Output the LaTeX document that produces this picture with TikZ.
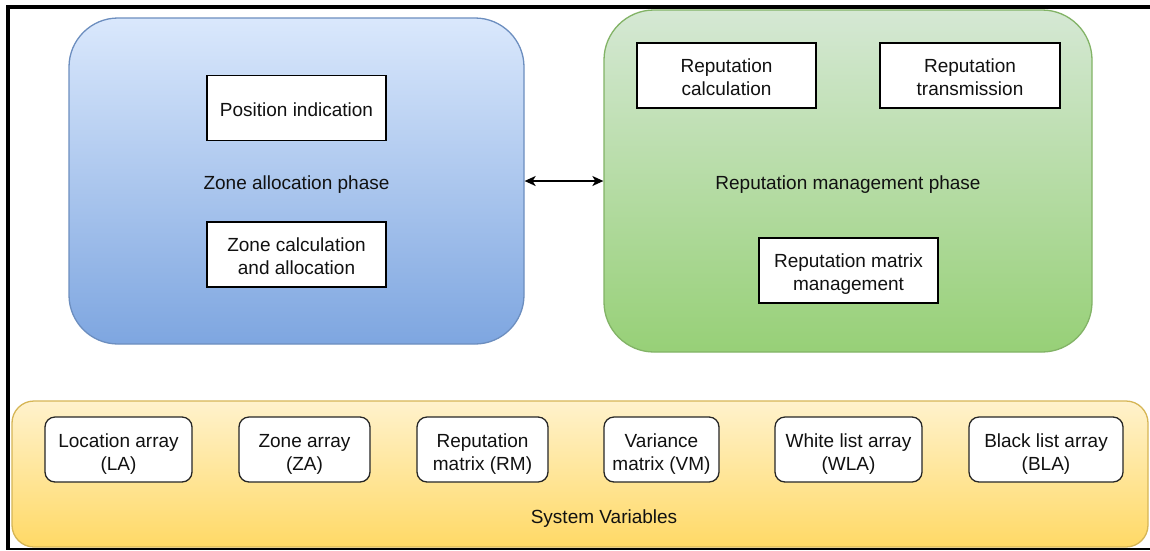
\documentclass[tikz,border=0pt]{standalone}
\usepackage{fontspec}
\setmainfont{Liberation Sans}
\usetikzlibrary{arrows.meta}

\definecolor{blueTop}{HTML}{DAE8FC}
\definecolor{blueBot}{HTML}{7EA6E0}
\definecolor{blueLine}{HTML}{6C8EBF}
\definecolor{greenTop}{HTML}{D5E8D4}
\definecolor{greenBot}{HTML}{97D077}
\definecolor{greenLine}{HTML}{82B366}
\definecolor{yellowTop}{HTML}{FFF2CC}
\definecolor{yellowBot}{HTML}{FFD966}
\definecolor{yellowLine}{HTML}{D6B656}
\definecolor{inkText}{HTML}{111111}

% centred lines of a label, set a little below the middle of their box
\newlength\celldrop
\setlength\celldrop{4pt}
\newcommand\celltext[1]{\raisebox{-\celldrop}[\height][\depth]{%
  \begin{tabular}{@{}c@{}}#1\end{tabular}}}

\tikzset{
  txt/.style={font=\fontsize{19}{23}\selectfont, text=inkText},
  phase/.style={txt, draw, line width=1.3pt, inner sep=0pt},
  task/.style={txt, draw=black, fill=white, line width=1.4pt,
    minimum width=179pt, minimum height=65pt, inner sep=0pt},
  var/.style={txt, draw=black!85, fill=white, line width=1.3pt,
    rounded corners=10pt, minimum height=65pt, inner sep=0pt,
    execute at begin node={\setlength\celldrop{5pt}}},
  link/.style={line width=1.5pt, {Stealth[length=11pt,width=10pt,inset=3pt]}-{Stealth[length=11pt,width=10pt,inset=3pt]}},
}

\begin{document}
\begin{tikzpicture}[x=1pt, y=-1pt]
\useasboundingbox (0,0) rectangle (1150,550);
\fill[white] (0,0) rectangle (1150,550);

% page frame
\draw[line width=4pt] (1150,6.5) -- (8,6.5) -- (8,550);
\draw[line width=2pt] (8,548.5) -- (1150,548.5);

% phase containers
\node[phase, draw=blueLine, top color=blueTop, bottom color=blueBot,
  rounded corners=49pt, minimum width=455pt, minimum height=326pt]
  (zone) at (296.5,181) {\celltext{Zone allocation phase}};
\node[phase, draw=greenLine, top color=greenTop, bottom color=greenBot,
  rounded corners=50pt, minimum width=488pt, minimum height=342pt]
  (rep) at (848,181) {\celltext{Reputation management phase}};
\node[phase, draw=yellowLine, top color=yellowTop, bottom color=yellowBot,
  rounded corners=22pt, minimum width=1136pt, minimum height=146pt]
  (sys) at (580,474) {};
\node[txt, inner sep=0pt] (syslabel) at (604,515) {\celltext{System Variables}};

% tasks of the zone allocation phase
\node[task] (pos) at (296.5,108) {\celltext{Position indication}};
\node[task] (zcalc) at (296.5,254.5) {\celltext{Zone calculation\\and allocation}};

% tasks of the reputation management phase
\node[task] (rcalc) at (726.5,75.5) {\celltext{Reputation\\calculation}};
\node[task, minimum width=180pt] (rtrans) at (970,75.5) {\celltext{Reputation\\transmission}};
\node[task] (rmm) at (848.5,270.5) {\celltext{Reputation matrix\\management}};

% system variables
\node[var, minimum width=147pt] (la) at (118.5,449.5) {\celltext{Location array\\(LA)}};
\node[var, minimum width=131pt] (za) at (304.5,449.5) {\celltext{Zone array\\(ZA)}};
\node[var, minimum width=131pt] (rm) at (482.5,449.5) {\celltext{Reputation\\matrix (RM)}};
\node[var, minimum width=115pt] (vm) at (661.5,449.5) {\celltext{Variance\\matrix (VM)}};
\node[var, minimum width=147pt] (wla) at (848.5,449.5) {\celltext{White list array\\(WLA)}};
\node[var, minimum width=154pt] (bla) at (1046,449.5) {\celltext{Black list array\\(BLA)}};

% exchange between the two phases
\draw[link] (zone.east) -- (rep.west);
\end{tikzpicture}
\end{document}
